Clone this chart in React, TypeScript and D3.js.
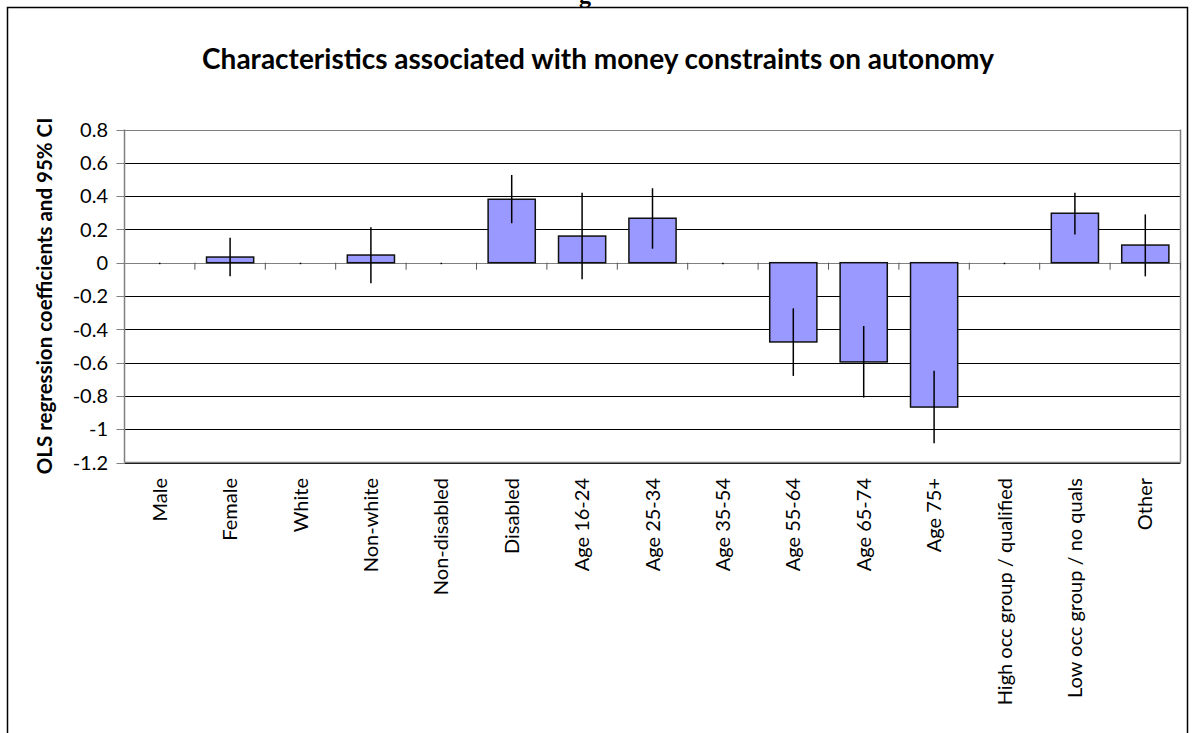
import React from 'react'
import * as d3 from 'd3'

const categories = [
    'Male', 'Female', 'White', 'Non-white', 'Non-disabled', 'Disabled',
    'Age 16-24', 'Age 25-34', 'Age 35-54', 'Age 55-64', 'Age 65-74', 'Age 75+',
    'High occ group / qualified', 'Low occ group / no quals', 'Other',
]
const coefficients = [0, 0.034, 0, 0.046, 0, 0.381, 0.16, 0.267, 0, -0.476, -0.596, -0.867, 0, 0.297, 0.106]
const ciLow = [0, -0.082, 0, -0.124, 0, 0.237, -0.1, 0.084, 0, -0.68, -0.81, -1.085, 0, 0.17, -0.082]
const ciHigh = [0, 0.15, 0, 0.213, 0, 0.527, 0.42, 0.447, 0, -0.274, -0.38, -0.649, 0, 0.42, 0.29]
const yTicks = [0.8, 0.6, 0.4, 0.2, 0, -0.2, -0.4, -0.6, -0.8, -1, -1.2]

const App = () => {
    const width = 1195,
        height = 733
    // plot area
    const left = 124.5, right = 1180.5, top = 129.5, bottom = 462.5
    const font = 'Lato, "Open Sans", sans-serif'

    const x = d3.scaleBand()
        .domain(categories)
        .range([left, right])
        .paddingInner(0.33)
        .paddingOuter(0.165)
    const band = d3.scaleBand().domain(categories).range([left, right]) // category slots for ticks
    const y = d3.scaleLinear().domain([-1.2, 0.8]).range([bottom, top])

    return (
        <svg width={width} height={height} style={{ position: 'absolute', left: 0, top: 0 }}>
            <rect x={0} y={0} width={width} height={height} fill="white" />
            {/* bit of heading from the page above */}
            <text x={585} y={3} fontFamily='"Liberation Serif", serif' fontWeight="bold" fontSize={24} textAnchor="middle">g</text>
            {/* chart frame */}
            <rect x={7.5} y={7.5} width={1180} height={760} fill="none" stroke="black" strokeWidth={1.5} />

            <text x={598} y={69} textAnchor="middle" fontFamily={font} fontWeight="bold" fontSize={28}>
                Characteristics associated with money constraints on autonomy
            </text>

            {/* gridlines */}
            {yTicks.map((t) => (
                <line key={'g' + t} x1={left} x2={right} y1={Math.round(y(t)) + 0.5} y2={Math.round(y(t)) + 0.5}
                    stroke={t === 0 || t === 0.8 ? '#808080' : '#000'} strokeWidth={1} />
            ))}
            {/* plot border right/bottom */}
            <line x1={right} x2={right} y1={top} y2={bottom} stroke="#808080" strokeWidth={1.5} />
            <line x1={left} x2={right} y1={bottom} y2={bottom} stroke="#808080" strokeWidth={1.5} />
            {/* y axis */}
            <line x1={left} x2={left} y1={top} y2={bottom} stroke="#808080" strokeWidth={1.5} />
            {yTicks.map((t) => (
                <g key={'t' + t}>
                    <line x1={left - 8} x2={left} y1={Math.round(y(t)) + 0.5} y2={Math.round(y(t)) + 0.5} stroke="#808080" />
                    <text x={108} y={y(t)} dy="0.36em" textAnchor="end" fontFamily={font} fontSize={20}>{t}</text>
                </g>
            ))}
            <text transform={`translate(52,${(top + bottom) / 2}) rotate(-90)`} textAnchor="middle"
                fontFamily={font} fontWeight="bold" fontSize={20.5}>
                OLS regression coefficients and 95% CI
            </text>

            {/* category ticks on zero line */}
            {categories.map((c) => (
                <line key={'ct' + c} x1={(band(c) as number) + band.bandwidth()}
                    x2={(band(c) as number) + band.bandwidth()} y1={y(0)} y2={y(0) + 7} stroke="#555" strokeWidth={1} />
            ))}

            {/* bars */}
            {categories.map((c, i) => {
                const v = coefficients[i]
                if (v === 0) return null
                return (
                    <rect key={'b' + c} x={x(c)} y={y(Math.max(0, v))} width={x.bandwidth()}
                        height={Math.abs(y(v) - y(0))} fill="#9999FF" stroke="#111" strokeWidth={1.5} />
                )
            })}

            {/* error bars */}
            {categories.map((c, i) => {
                const cx = (x(c) as number) + x.bandwidth() / 2
                const lo = ciLow[i] === ciHigh[i] ? y(ciLow[i]) + 1.5 : y(ciLow[i])
                return (
                    <line key={'e' + c} x1={cx} x2={cx} y1={y(ciHigh[i])} y2={lo} stroke="#000" strokeWidth={1.5} />
                )
            })}

            {/* category labels */}
            {categories.map((c) => {
                const cx = (x(c) as number) + x.bandwidth() / 2
                return (
                    <text key={'l' + c} transform={`translate(${cx},478) rotate(-90)`} textAnchor="end" dy="0.35em"
                        fontFamily={font} fontSize={20}>{c}</text>
                )
            })}
        </svg>
    )
}

export default App
